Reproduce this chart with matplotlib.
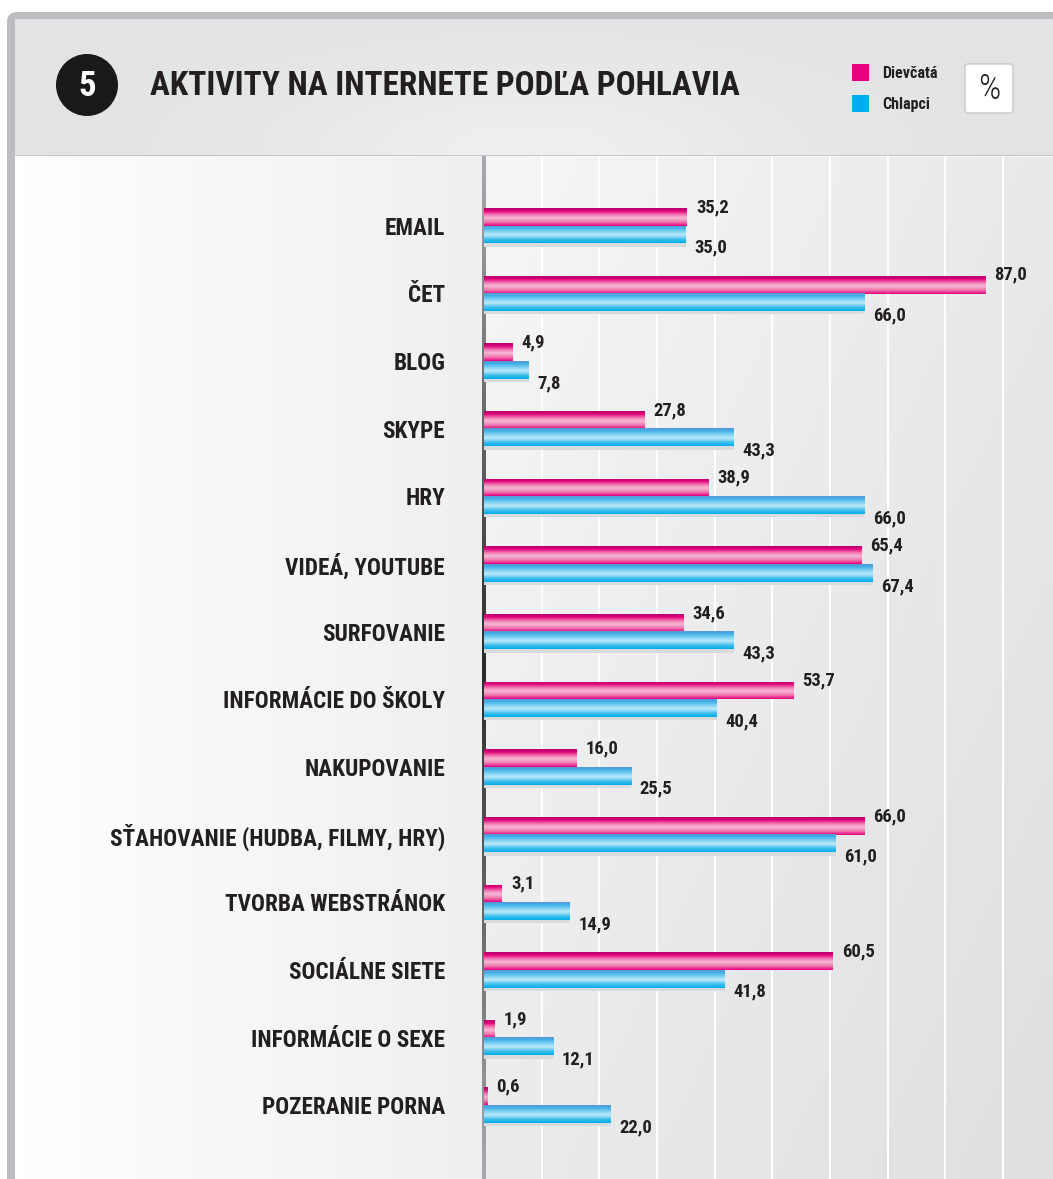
import numpy as np
import matplotlib
matplotlib.use("Agg")
import matplotlib.pyplot as plt
from matplotlib import font_manager as fm
from matplotlib.colors import LinearSegmentedColormap, to_rgb
from matplotlib.patches import Rectangle, FancyBboxPatch, Circle

# data
categories = ["EMAIL", "ČET", "BLOG", "SKYPE", "HRY", "VIDEÁ, YOUTUBE", "SURFOVANIE",
              "INFORMÁCIE DO ŠKOLY", "NAKUPOVANIE", "SŤAHOVANIE (HUDBA, FILMY, HRY)",
              "TVORBA WEBSTRÁNOK", "SOCIÁLNE SIETE", "INFORMÁCIE O SEXE", "POZERANIE PORNA"]
girls = [35.2, 87.0, 4.9, 27.8, 38.9, 65.4, 34.6, 53.7, 16.0, 66.0, 3.1, 60.5, 1.9, 0.6]
boys = [35.0, 66.0, 7.8, 43.3, 66.0, 67.4, 43.3, 40.4, 25.5, 61.0, 14.9, 41.8, 12.1, 22.0]
series_names = ["Dievčatá", "Chlapci"]
title = "AKTIVITY NA INTERNETE PODĽA POHLAVIA"
grid_ticks = [10, 20, 30, 40, 50, 60, 70, 80, 90]

TXT = "#231f20"
PINK = "#e6007e"
BLUE = "#00aeef"


# pick a narrow bold face if there is one
def pick_narrow():
    entries = fm.fontManager.ttflist
    names = {f.name for f in entries}
    for cand in ["Roboto Condensed", "Liberation Sans Narrow", "Open Sans Condensed",
                 "DejaVu Sans Condensed", "Noto Sans Condensed"]:
        if cand in names:
            return cand, "normal"
    for stretch in ["condensed", "semi-condensed", "extra-condensed"]:
        for fam in ["Noto Sans", "Roboto", "Open Sans", "DejaVu Sans", "Liberation Sans", "Inter", "Lato"]:
            for f in entries:
                if f.name == fam and f.stretch == stretch and int(f.weight) >= 600:
                    return fam, stretch
    return "DejaVu Sans", "normal"


FAM, STRETCH = pick_narrow()
NARROW = dict(family=[FAM, "DejaVu Sans"], fontstretch=STRETCH, fontweight="bold")

W, H = 1053, 1179
fig = plt.figure(figsize=(W / 100, H / 100), dpi=100)
renderer = fig.canvas.get_renderer()


def fit_size(text, size, target_w, lo, hi):
    t = fig.text(0, 0, text, fontsize=size, **NARROW)
    w = t.get_window_extent(renderer).width
    t.remove()
    return float(np.clip(size * target_w / w, lo, hi))


title_fs = fit_size(title, 24, 592, 14, 30)
label_fs = fit_size("INFORMÁCIE DO ŠKOLY", 14, 222, 10, 17)
value_fs = fit_size("87,0", 14, 33, 10.5, 16)
legend_fs = fit_size("Dievčatá", 11, 56, 8, 11.5)

# background axes in pixel coordinates
bg = fig.add_axes([0, 0, 1, 1])
bg.set_xlim(0, W)
bg.set_ylim(H, 0)
bg.axis("off")


def grad2d(c0, c1, nx, ny, wx, wy):
    u = np.linspace(0, 1, nx)[None, :]
    v = np.linspace(0, 1, ny)[:, None]
    t = np.clip(wx * u + wy * v, 0, 1)[..., None]
    a, b = np.array(to_rgb(c0)), np.array(to_rgb(c1))
    return a * (1 - t) + b * t


bg.add_patch(FancyBboxPatch((7, 12), 1200, 1400, boxstyle="round,pad=0,rounding_size=10",
                            fc="#bcbdc0", ec="none", zorder=0))
# header band
hdr = grad2d("#e2e3e5", "#e2e3e5", 50, 20, 0, 0)
uu = np.linspace(0, 1, 50)[None, :]
vv = np.linspace(0, 1, 20)[:, None]
glow = np.exp(-((uu - 0.5) ** 2 / 0.08 + (vv - 1.0) ** 2 / 0.5))[..., None]
hdr = hdr * (1 - glow) + np.array(to_rgb("#eeeff0")) * glow
bg.imshow(hdr, extent=(15, W, 155, 19), origin="upper", aspect="auto",
          interpolation="bilinear", zorder=1)
bg.plot([15, W], [155.5, 155.5], color="#f4f4f5", lw=1, zorder=2)
# label area
bg.imshow(grad2d("#ffffff", "#eeeff1", 50, 2, 1, 0), extent=(15, 483, H, 156),
          origin="upper", aspect="auto", interpolation="bilinear", zorder=1)
# plot area
bg.imshow(grad2d("#f6f6f7", "#dedfe1", 50, 50, 0.55, 0.45), extent=(483, W, H, 156),
          origin="upper", aspect="auto", interpolation="bilinear", zorder=1)

# number badge
bg.add_patch(Circle((87, 85), 31, fc="#1a1818", ec="none", zorder=3))
bg.text(87, 86, "5", color="white", fontsize=25, ha="center", va="center", zorder=4, **NARROW)
bg.text(150, 86, title, color=TXT, fontsize=title_fs, ha="left", va="center", zorder=4, **NARROW)

# legend
for i, (name, col) in enumerate(zip(series_names, [PINK, BLUE])):
    y = 64 + i * 31
    bg.add_patch(Rectangle((852, y), 17, 17, fc=col, ec="none", zorder=3))
    bg.text(882, y + 9, name, color=TXT, fontsize=legend_fs, ha="left", va="center",
            zorder=4, **NARROW)
bg.add_patch(FancyBboxPatch((965, 64), 48, 49, boxstyle="round,pad=0,rounding_size=3",
                            fc="white", ec="#c8c9cb", lw=1, zorder=3))
bg.text(989, 89, "%", color=TXT, fontsize=25, family=[FAM, "DejaVu Sans"],
        fontstretch=STRETCH, fontweight="light", ha="center", va="center", zorder=4)

# zero axis line, dark in the middle
ax_col = grad2d("#a9aaad", "#2a2a2a", 1, 80, 0, 1)
ax_col = np.concatenate([ax_col, ax_col[::-1]], axis=0)
bg.imshow(ax_col, extent=(481.5, 485, H, 156), origin="upper", aspect="auto",
          interpolation="bilinear", zorder=5)

# main chart axes
px = 5.765
ax = fig.add_axes([484 / W, 0, 1 - 484 / W, (H - 156) / H])
ax.patch.set_alpha(0)
ax.set_xlim(0, (W - 484) / px)
n = len(categories)
ax.set_ylim(n - 1 + 1.09, -1.03)
for s in ax.spines.values():
    s.set_visible(False)
ax.set_xticks([])
ax.set_yticks(range(n))
ax.set_yticklabels(categories, fontsize=label_fs, color=TXT, **NARROW)
ax.tick_params(axis="y", length=0, pad=28)

for g in grid_ticks:
    ax.axvline(g, color="white", lw=1.5, zorder=1)

pink_cmap = LinearSegmentedColormap.from_list("pink", [
    (0.0, "#b3006a"), (0.15, "#e0007a"), (0.38, "#f27fb5"), (0.55, "#f8b8d4"),
    (0.78, "#f07ab0"), (1.0, "#e6007e")])
blue_cmap = LinearSegmentedColormap.from_list("blue", [
    (0.0, "#5a96d2"), (0.14, "#3fb0e8"), (0.4, "#8fd8f5"), (0.55, "#bdeafa"),
    (0.78, "#45c0ee"), (1.0, "#00aeea")])
ramp = np.linspace(0, 1, 64).reshape(-1, 1)

idx = np.arange(n)
h = 0.265
y_pink = idx - 0.13
y_blue = idx + 0.13

ax.barh(y_blue + 0.05, boys, height=h, color="#d9dadc", zorder=2)
pink_bars = ax.barh(y_pink, girls, height=h, color=PINK, zorder=3)
blue_bars = ax.barh(y_blue, boys, height=h, color=BLUE, zorder=4)

for bars, cmap, z in [(pink_bars, pink_cmap, 3.5), (blue_bars, blue_cmap, 4.5)]:
    for p in bars:
        x0, y0, w, hh = p.get_x(), p.get_y(), p.get_width(), p.get_height()
        im = ax.imshow(ramp, cmap=cmap, extent=(x0, x0 + w, y0 + hh, y0), origin="upper",
                       aspect="auto", interpolation="bilinear", zorder=z)
        im.set_clip_path(p)


def fmt(v):
    return f"{v:.1f}".replace(".", ",")


for i in range(n):
    ax.annotate(fmt(girls[i]), (girls[i], y_pink[i] - h / 2), xytext=(6.5, 0.5),
                textcoords="offset points", ha="left", va="center", fontsize=value_fs,
                color=TXT, zorder=6, **NARROW)
    ax.annotate(fmt(boys[i]), (boys[i], y_blue[i] + h / 2), xytext=(6, -3),
                textcoords="offset points", ha="left", va="center", fontsize=value_fs,
                color=TXT, zorder=6, **NARROW)

fig.savefig("out.png", dpi=100)
